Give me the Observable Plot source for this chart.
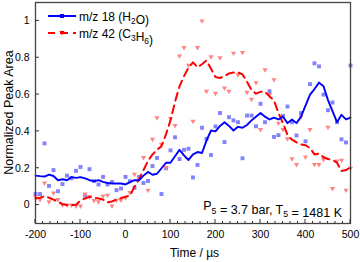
<!DOCTYPE html>
<html>
<head>
<meta charset="utf-8">
<script src="https://cdn.jsdelivr.net/npm/d3@7"></script>
<script src="https://cdn.jsdelivr.net/npm/@observablehq/plot@0.6"></script>
<style>
  html, body { margin: 0; padding: 0; background: #fff; }
  svg { display: block; }
</style>
</head>
<body>
<div id="chart"></div>
<script>
// Time axis (µs)
const times = [
  -200,-190,-180,-170,-160,-150,-140,-130,-120,-110,
  -100,-90,-80,-70,-60,-50,-40,-30,-20,-10,
  0,10,20,30,40,50,60,70,80,90,
  100,110,120,130,140,150,160,170,180,190,
  200,210,220,230,240,250,260,270,280,290,
  300,310,320,330,340,350,360,370,380,390,
  400,410,420,430,440,450,460,470,480,490,
  500
];
// m/z 18 (H2O) raw points
const h2oPoints = [
  0.060,0.060,0.335,0.104,0.190,0.075,0.114,0.160,0.146,0.186,
  0.207,0.052,0.195,0.130,0.112,0.153,0.112,0.125,0.081,0.090,
  0.153,0.130,0.094,0.153,0.120,0.131,0.212,0.256,0.060,0.200,
  0.297,0.368,0.250,0.300,0.306,0.150,0.218,0.420,0.360,0.272,
  0.427,0.500,0.342,0.477,0.460,0.450,0.254,0.486,0.486,0.428,
  0.550,0.450,0.618,0.370,0.380,0.484,0.535,0.450,0.378,0.500,
  0.346,0.657,0.770,0.753,0.600,0.515,0.557,0.450,0.357,0.340,
  0.758
];
// m/z 18 (H2O) smoothed line
const h2oSmooth = [
  0.160,0.157,0.155,0.165,0.158,0.135,0.140,0.135,0.152,0.148,
  0.152,0.145,0.135,0.130,0.135,0.126,0.120,0.117,0.117,0.117,
  0.112,0.125,0.135,0.135,0.160,0.180,0.165,0.170,0.200,0.230,
  0.230,0.265,0.300,0.270,0.245,0.275,0.288,0.283,0.350,0.405,
  0.400,0.430,0.450,0.430,0.405,0.425,0.420,0.435,0.460,0.480,
  0.500,0.480,0.465,0.475,0.465,0.480,0.445,0.465,0.445,0.480,
  0.540,0.600,0.630,0.665,0.645,0.570,0.510,0.450,0.490,0.465,
  0.475
];
// m/z 42 (C3H6) raw points
const c3h6Points = [
  0.045,0.030,0.120,0.018,0.066,0.030,0.002,0.000,0.000,-0.005,
  -0.005,0.060,0.045,0.025,0.018,0.050,0.054,-0.005,0.027,0.027,
  0.040,0.068,0.168,0.144,0.258,0.081,0.357,0.474,0.330,0.204,
  0.470,0.432,0.810,0.856,0.760,0.455,0.856,1.000,0.618,0.805,
  0.607,0.800,0.636,0.618,0.825,0.708,0.829,0.613,0.575,0.665,
  0.410,0.735,0.600,0.680,0.445,0.410,0.360,0.252,0.220,0.478,
  0.261,0.410,0.220,0.220,0.247,0.423,0.090,0.240,0.243,0.081,
  0.200
];
// m/z 42 (C3H6) smoothed line
const c3h6Smooth = [
  0.036,0.040,0.048,0.040,0.030,0.018,0.005,0.000,0.000,0.002,
  0.025,0.036,0.045,0.040,0.036,0.030,0.015,0.020,0.030,0.038,
  0.045,0.052,0.100,0.140,0.190,0.240,0.275,0.300,0.320,0.385,
  0.460,0.560,0.645,0.700,0.745,0.775,0.748,0.765,0.785,0.740,
  0.695,0.690,0.700,0.715,0.720,0.720,0.710,0.670,0.625,0.605,
  0.615,0.615,0.590,0.568,0.500,0.445,0.380,0.355,0.340,0.330,
  0.325,0.310,0.275,0.280,0.260,0.250,0.245,0.230,0.185,0.190,
  0.205
];
const xTickValues = [-200,-100,0,100,200,300,400,500];
const xTickLabels = ["-200","-100","0","100","200","300","400","500"];
const yTickValues = [0,0.2,0.4,0.6,0.8,1];
const yTickLabels = ["0","0.2","0.4","0.6","0.8","1"];
const xLabel = "Time / \u00B5s";
const yLabel = "Normalized Peak Area";

const data = times.map((t, i) => ({
  t, h2oP: h2oPoints[i], h2oL: h2oSmooth[i], c3P: c3h6Points[i], c3L: c3h6Smooth[i]
}));

const BLUE = "#0000ff", BLUE_PT = "#8282ff", RED = "#ff0000", RED_PT = "#ff8484";
const FONT = "'Liberation Sans', Arial, sans-serif";

const plot = Plot.plot({
  width: 360, height: 262,
  marginLeft: 35, marginRight: 10, marginTop: 2, marginBottom: 39,
  style: {fontFamily: FONT, fontSize: "10.5px", color: "#000", background: "#fff", overflow: "visible"},
  x: {domain: [-200, 500]},
  y: {domain: [-0.1, 1.1]},
  marks: [
    Plot.dot(data, {x: "t", y: "h2oP", symbol: "square", r: 2.2, fill: BLUE_PT}),
    Plot.dot(data, {x: "t", y: "c3P", symbol: "triangle", rotate: 180, r: 1.9, fill: RED_PT}),
    Plot.line(data, {x: "t", y: "c3L", stroke: RED, strokeWidth: 2, strokeDasharray: "8,5"}),
    Plot.line(data, {x: "t", y: "h2oL", stroke: BLUE, strokeWidth: 1.9}),
    Plot.axisX({ticks: xTickValues, tickSize: 0, tickPadding: 7,
      tickFormat: d => xTickLabels[xTickValues.indexOf(d)], label: null}),
    Plot.axisY({ticks: yTickValues, tickSize: 0, tickPadding: 6,
      tickFormat: d => yTickLabels[yTickValues.indexOf(d)], label: null}),
    Plot.frame({stroke: "#444", strokeWidth: 1.3})
  ]
});
document.getElementById("chart").appendChild(plot);

const svg = d3.select(plot);
const sx = plot.scale("x"), sy = plot.scale("y");
const x0 = sx.apply(-200), x1 = sx.apply(500);
const yb = sy.apply(-0.1), yt = sy.apply(1.1);

// inward ticks
const tg = svg.append("g").attr("stroke", "#333").attr("stroke-width", 1);
const minorStep = 100 / 6;
for (let k = 0; k <= 42; k++) {
  const v = -200 + k * minorStep;
  const px = sx.apply(v);
  const major = k % 6 === 0;
  tg.append("line").attr("x1", px).attr("x2", px)
    .attr("y1", yb).attr("y2", yb - (major ? 4 : 2));
}
yTickValues.forEach(v => {
  const py = sy.apply(v);
  tg.append("line").attr("x1", x0).attr("x2", x0 + 4).attr("y1", py).attr("y2", py);
});

// axis titles
svg.append("text").attr("x", (x0 + x1) / 2 + 2).attr("y", 257)
  .attr("text-anchor", "middle").attr("font-family", FONT).attr("font-size", 12)
  .attr("fill", "#000").text(xLabel);
svg.append("text").attr("transform", `translate(13,${(yb + yt) / 2}) rotate(-90)`)
  .attr("text-anchor", "middle").attr("font-family", FONT).attr("font-size", 12.5)
  .attr("fill", "#000").text(yLabel);

// rich text helper with subscripts
function rich(sel, parts, size) {
  parts.forEach(p => {
    if (typeof p === "string") {
      sel.append("tspan").attr("font-size", size).text(p);
    } else {
      sel.append("tspan").attr("font-size", size * 0.7).attr("dy", size * 0.28).text(p.sub);
      sel.append("tspan").attr("font-size", size).attr("dy", -size * 0.28).text("");
    }
  });
}

// legend
const lg = svg.append("g");
const legendItems = [
  {y: 16, color: BLUE, dash: null, sym: "square", parts: ["m/z 18 (H", {sub: "2"}, "O)"]},
  {y: 33, color: RED, dash: "8,5", sym: "tri", parts: ["m/z 42 (C", {sub: "3"}, "H", {sub: "6"}, ")"]}
];
legendItems.forEach(it => {
  const ln = lg.append("line").attr("x1", 48).attr("x2", 76).attr("y1", it.y).attr("y2", it.y)
    .attr("stroke", it.color).attr("stroke-width", 2);
  if (it.dash) ln.attr("stroke-dasharray", it.dash).attr("stroke-dashoffset", 1);
  if (it.sym === "square") {
    lg.append("rect").attr("x", 60).attr("y", it.y - 2).attr("width", 4).attr("height", 4).attr("fill", it.color);
  } else {
    lg.append("path").attr("d", `M59.5,${it.y - 2}L64.5,${it.y - 2}L62,${it.y + 2.5}Z`).attr("fill", it.color);
  }
  const t = lg.append("text").attr("x", 79).attr("y", it.y + 4.5).attr("text-anchor", "start")
    .attr("font-family", FONT).attr("fill", "#000");
  rich(t, it.parts, 12);
});

// condition annotation
const ann = svg.append("text").attr("x", x1 - 8).attr("y", 210).attr("text-anchor", "end")
  .attr("font-family", FONT).attr("fill", "#000");
rich(ann, ["P", {sub: "5"}, " = 3.7 bar, T", {sub: "5"}, " = 1481 K"], 12.5);
</script>
</body>
</html>
